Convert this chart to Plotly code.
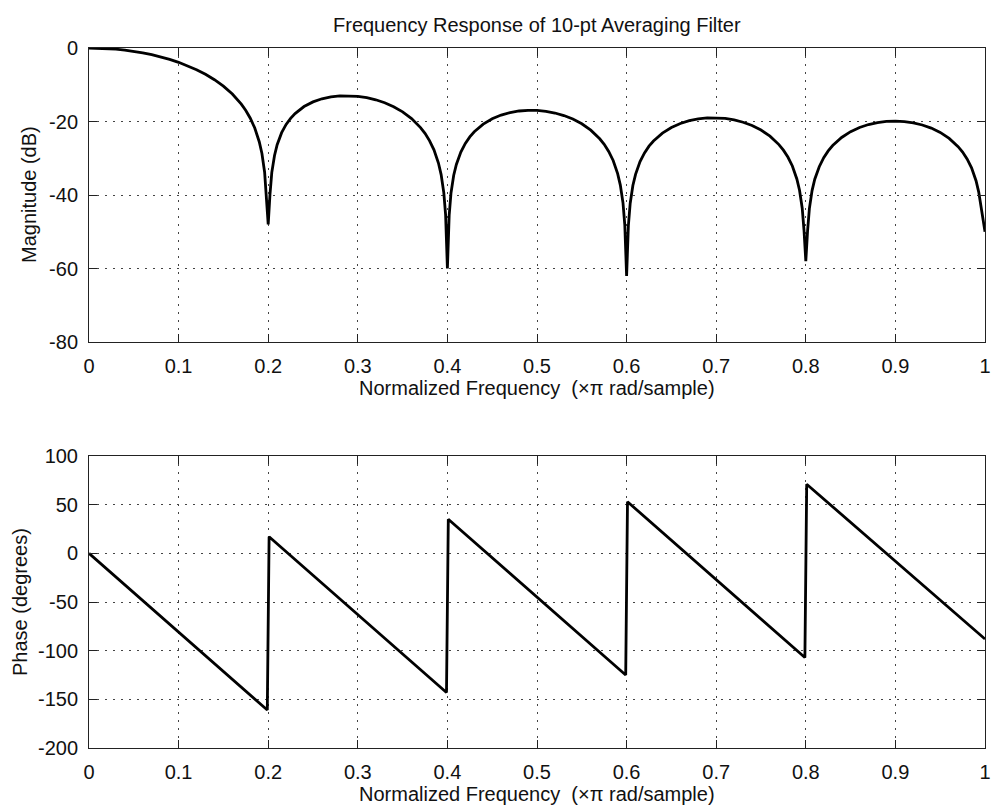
import plotly.graph_objects as go
from plotly.subplots import make_subplots

# Magnitude response of the 10-point moving average, in dB
freq_mag = [
    0.00, 0.01, 0.02, 0.03, 0.04, 0.05, 0.06, 0.07, 0.08, 0.09,
    0.10, 0.11, 0.12, 0.13, 0.14, 0.15, 0.16, 0.17, 0.175, 0.18, 0.185, 0.19,
    0.193, 0.196, 0.198, 0.200, 0.202, 0.204, 0.207,
    0.21, 0.215, 0.22, 0.225, 0.23, 0.24, 0.25, 0.26, 0.27, 0.28, 0.29, 0.30,
    0.31, 0.32, 0.33, 0.34, 0.35, 0.36, 0.37, 0.375, 0.38, 0.385, 0.39,
    0.393, 0.396, 0.398, 0.400, 0.402, 0.404, 0.407,
    0.41, 0.415, 0.42, 0.425, 0.43, 0.44, 0.45, 0.46, 0.47, 0.48, 0.49, 0.50,
    0.51, 0.52, 0.53, 0.54, 0.55, 0.56, 0.57, 0.575, 0.58, 0.585, 0.59,
    0.593, 0.596, 0.598, 0.600, 0.602, 0.604, 0.607,
    0.61, 0.615, 0.62, 0.625, 0.63, 0.64, 0.65, 0.66, 0.67, 0.68, 0.69, 0.70,
    0.71, 0.72, 0.73, 0.74, 0.75, 0.76, 0.77, 0.775, 0.78, 0.785, 0.79,
    0.793, 0.796, 0.798, 0.800, 0.802, 0.804, 0.807,
    0.81, 0.815, 0.82, 0.825, 0.83, 0.84, 0.85, 0.86, 0.87, 0.88, 0.89, 0.90,
    0.91, 0.92, 0.93, 0.94, 0.95, 0.96, 0.97, 0.975, 0.98, 0.985, 0.99,
    0.993, 0.996, 1.000,
]
mag_db = [
    0.0, -0.04, -0.14, -0.32, -0.57, -0.90, -1.31, -1.81, -2.40, -3.09,
    -3.89, -4.81, -5.89, -7.14, -8.62, -10.37, -12.53, -15.29, -17.0, -19.11, -21.78, -25.5,
    -28.7, -33.8, -39.9, -48.0, -39.8, -33.9, -29.3,
    -26.3, -23.04, -20.8, -19.13, -17.83, -15.93, -14.67, -13.82, -13.29, -13.02, -12.98, -13.14,
    -13.51, -14.09, -14.90, -15.98, -17.37, -19.20, -21.65, -23.2, -25.20, -27.7, -31.3,
    -34.45, -39.4, -45.4, -60.0, -45.5, -39.5, -34.7,
    -31.7, -28.3, -25.95, -24.18, -22.78, -20.71, -19.26, -18.25, -17.56, -17.14, -16.96, -16.99,
    -17.23, -17.69, -18.38, -19.34, -20.63, -22.35, -24.71, -26.2, -28.16, -30.6, -34.17,
    -37.3, -42.2, -48.2, -62.0, -48.3, -42.3, -37.4,
    -34.37, -30.9, -28.55, -26.7, -25.30, -23.15, -21.63, -20.54, -19.78, -19.29, -19.03, -19.00,
    -19.17, -19.57, -20.20, -21.10, -22.32, -23.98, -26.28, -27.8, -29.67, -32.1, -35.63,
    -38.7, -43.6, -49.6, -58.0, -49.7, -43.7, -38.8,
    -35.72, -32.3, -29.85, -28.0, -26.55, -24.34, -22.77, -21.63, -20.82, -20.28, -19.98, -19.89,
    -20.02, -20.37, -20.95, -21.80, -22.98, -24.60, -26.85, -28.3, -30.20, -32.6, -36.11,
    -39.2, -44.0, -50.0,
]

# Phase response in degrees (linear segments with jumps at the zeros)
freq_ph = [0.0, 0.1, 0.199, 0.201, 0.3, 0.399, 0.401, 0.5, 0.599, 0.601,
           0.7, 0.799, 0.801, 0.9, 1.0]
phase_deg = [0, -81, -161, 17, -63, -143, 35, -45, -125, 53,
             -27, -107, 71, -8, -88]

x_ticks = [0, 0.1, 0.2, 0.3, 0.4, 0.5, 0.6, 0.7, 0.8, 0.9, 1]
x_labels = ["0", "0.1", "0.2", "0.3", "0.4", "0.5", "0.6", "0.7", "0.8", "0.9", "1"]
mag_ticks = [-80, -60, -40, -20, 0]
mag_labels = ["-80", "-60", "-40", "-20", "0"]
ph_ticks = [-200, -150, -100, -50, 0, 50, 100]
ph_labels = ["-200", "-150", "-100", "-50", "0", "50", "100"]

W, H = 992, 812
FONT = "Liberation Sans, Arial, sans-serif"
FS = 20

fig = make_subplots(rows=2, cols=1)
fig.add_trace(go.Scatter(x=freq_mag, y=mag_db, mode="lines",
                         line=dict(color="black", width=2.8)), row=1, col=1)
fig.add_trace(go.Scatter(x=freq_ph, y=phase_deg, mode="lines",
                         line=dict(color="black", width=2.8)), row=2, col=1)

x_dom = [89 / W, 985 / W]
top_dom = [1 - 342 / H, 1 - 48 / H]
bot_dom = [1 - 748 / H, 1 - 456 / H]

common = dict(
    automargin=False,
    showline=True, linecolor="#222", linewidth=1, mirror="allticks",
    ticks="inside", ticklen=8, tickcolor="#222", tickwidth=1,
    showgrid=True, gridcolor="#444", gridwidth=1, griddash="2px,6px",
    zeroline=False, tickfont=dict(family=FONT, size=FS, color="#111"),
)

fig.update_xaxes(common, range=[0, 1], tickvals=x_ticks, ticktext=x_labels,
                 domain=x_dom, ticklabelstandoff=6)
fig.update_yaxes(common, ticklabelstandoff=6)
fig.update_yaxes(range=[-80, 0], tickvals=mag_ticks, ticktext=mag_labels,
                 domain=top_dom, row=1, col=1)
fig.update_yaxes(range=[-200, 100], tickvals=ph_ticks, ticktext=ph_labels,
                 domain=bot_dom, row=2, col=1)

xtitle = "Normalized Frequency \u00a0(\u00d7\u03c0 rad/sample)"
txt = dict(family=FONT, size=FS, color="#111")
annotations = [
    dict(text="Frequency Response of 10-pt Averaging Filter",
         x=537 / W, y=1 - 25 / H),
    dict(text=xtitle, x=537 / W, y=1 - 388 / H),
    dict(text=xtitle, x=537 / W, y=1 - 794 / H),
    dict(text="Magnitude (dB)", x=29 / W, y=1 - 195 / H, textangle=-90),
    dict(text="Phase (degrees)", x=20 / W, y=1 - 602 / H, textangle=-90),
]
for a in annotations:
    fig.add_annotation(xref="paper", yref="paper", showarrow=False,
                       xanchor="center", yanchor="middle", font=txt, **a)

fig.update_layout(
    width=W, height=H, margin=dict(l=0, r=0, t=0, b=0),
    paper_bgcolor="white", plot_bgcolor="white", showlegend=False,
)

fig.write_html("out.html")
